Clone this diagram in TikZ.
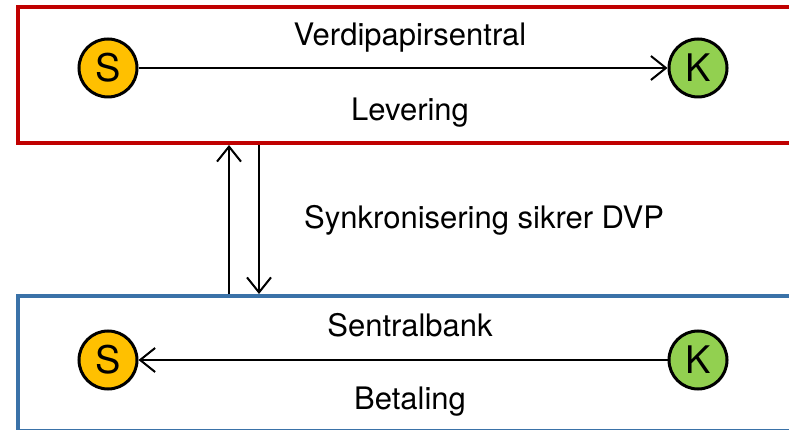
\documentclass[tikz,border=0pt]{standalone}
\usepackage{fontspec}
\setmainfont{TeX Gyre Heros}
\usetikzlibrary{arrows.meta}
\definecolor{boxred}{HTML}{C00000}
\definecolor{boxblue}{HTML}{3A72A8}
\definecolor{partyyellow}{HTML}{FFC000}
\definecolor{partygreen}{HTML}{92D050}
\tikzset{
  party/.style={circle, draw=black, line width=3pt, minimum size=58pt, inner sep=0pt,
    font=\fontsize{38}{44}\selectfont},
  lbl/.style={font=\fontsize{31}{37}\selectfont, inner sep=0pt},
  flow/.style={line width=2pt, -{Straight Barb[length=15pt, width=24pt, line width=2pt]}}
}

\begin{document}
\begin{tikzpicture}[x=1pt, y=-1pt]
			%%%%% START %%%%%
			\useasboundingbox (0, 0) rectangle (789, 430);
			\begin{scope}
			\clip (0, 0) rectangle (789, 430);

			% Levering
			\draw[line width=4pt, color=boxred] (18, 7) rectangle (820, 143);
			\node[party, fill=partyyellow] (s1) at (108, 68) {S};
			\node[party, fill=partygreen] (k1) at (698, 68) {K};
			\node[lbl] (vps) at (410, 38) {Verdipapirsentral};
			\node[lbl] (lev) at (410, 113) {Levering};
			\draw[flow] (s1) -- (k1);

			% Betaling
			\draw[line width=4pt, color=boxblue] (18, 296) rectangle (820, 431);
			\node[party, fill=partyyellow] (s2) at (108, 360) {S};
			\node[party, fill=partygreen] (k2) at (698, 360) {K};
			\node[lbl] (sb) at (410, 325) {Sentralbank};
			\node[lbl] (bet) at (410, 402) {Betaling};
			\draw[flow] (k2) -- (s2);

			% Synkronisering
			\coordinate (uptop) at (229, 145);
			\coordinate (upfoot) at (229, 294);
			\coordinate (dntop) at (259, 145);
			\coordinate (dnfoot) at (259, 294);
			\draw[flow] (upfoot) -- (uptop);
			\draw[flow] (dntop) -- (dnfoot);
			\node[lbl, anchor=west] (sync) at (304, 220) {Synkronisering sikrer DVP};
			\end{scope}
			%%%%% END %%%%%
\end{tikzpicture}
\end{document}
